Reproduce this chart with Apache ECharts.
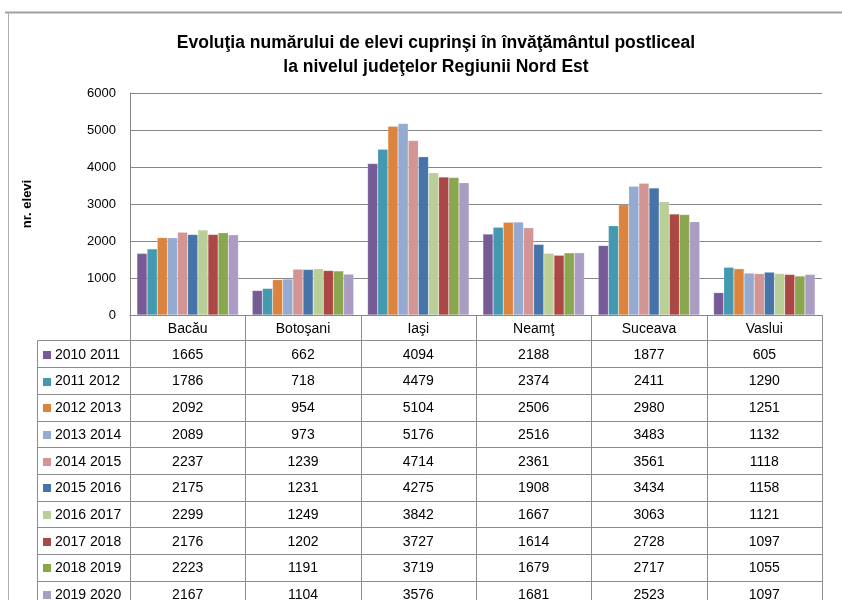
<!DOCTYPE html>
<html>
<head>
<meta charset="utf-8">
<script src="https://cdn.jsdelivr.net/npm/echarts@6/dist/echarts.min.js"></script>
<style>
html,body{margin:0;padding:0;background:#fff;}
#chart{width:842px;height:600px;}
</style>
</head>
<body>
<div id="chart"></div>
<script>
var categories = ["Bacău", "Botoşani", "Iaşi", "Neamţ", "Suceava", "Vaslui"];
var seriesNames = ["2010 2011","2011 2012","2012 2013","2013 2014","2014 2015","2015 2016","2016 2017","2017 2018","2018 2019","2019 2020"];
var v2010 = [1665, 662, 4094, 2188, 1877, 605];
var v2011 = [1786, 718, 4479, 2374, 2411, 1290];
var v2012 = [2092, 954, 5104, 2506, 2980, 1251];
var v2013 = [2089, 973, 5176, 2516, 3483, 1132];
var v2014 = [2237, 1239, 4714, 2361, 3561, 1118];
var v2015 = [2175, 1231, 4275, 1908, 3434, 1158];
var v2016 = [2299, 1249, 3842, 1667, 3063, 1121];
var v2017 = [2176, 1202, 3727, 1614, 2728, 1097];
var v2018 = [2223, 1191, 3719, 1679, 2717, 1055];
var v2019 = [2167, 1104, 3576, 1681, 2523, 1097];
var yTicks = [0, 1000, 2000, 3000, 4000, 5000, 6000];
var colors = ["#765B96","#4299B0","#DC843E","#94AAD1","#D39594","#4673A8","#BACF98","#AB4744","#8AA64F","#AA9CC2"];

var allValues = [v2010, v2011, v2012, v2013, v2014, v2015, v2016, v2017, v2018, v2019];

var FONT = '"Liberation Sans", Arial, sans-serif';
var GRID = {left: 130, right: 20, top: 93, bottom: 285};
var chart = echarts.init(document.getElementById('chart'), null, {renderer: 'canvas'});

var series = seriesNames.map(function (n, i) {
  return {
    name: n, type: 'bar', data: allValues[i],
    barGap: '0%', barCategoryGap: '12%',
    itemStyle: {color: colors[i], borderColor: 'rgba(255,255,255,0.35)', borderWidth: 0.5},
    animation: false
  };
});

chart.setOption({
  animation: false,
  backgroundColor: '#fff',
  title: {
    text: 'Evoluţia numărului de elevi cuprinşi în învăţământul postliceal\nla nivelul judeţelor Regiunii Nord Est',
    left: 431, top: 26, textAlign: 'center',
    textStyle: {fontFamily: FONT, fontSize: 17.5, fontWeight: 'bold', color: '#000', lineHeight: 24}
  },
  grid: GRID,
  xAxis: {
    type: 'category', data: categories,
    axisLine: {show: true, lineStyle: {color: '#868686'}},
    axisTick: {show: false},
    axisLabel: {show: false}
  },
  yAxis: {
    type: 'value', min: yTicks[0], max: yTicks[yTicks.length - 1], interval: 1000,
    name: 'nr. elevi', nameLocation: 'middle', nameGap: 96,
    nameTextStyle: {fontFamily: FONT, fontSize: 13, fontWeight: 'bold', color: '#000'},
    axisLine: {show: true, lineStyle: {color: '#868686'}},
    axisTick: {show: false},
    axisLabel: {fontFamily: FONT, fontSize: 13, color: '#000', margin: 14,
      formatter: function (v) { return String(v); }},
    splitLine: {lineStyle: {color: '#868686', width: 1}}
  },
  series: series
});

function buildTable() {
  var gRight = 842 - GRID.right;
  var y0 = chart.convertToPixel({yAxisIndex: 0}, 0);
  var c0 = chart.convertToPixel({xAxisIndex: 0}, 0);
  var c1 = chart.convertToPixel({xAxisIndex: 0}, 1);
  var cw = c1 - c0;
  var headerH = 25, rowH = 26.7, labelLeft = 37;
  var lineStyle = {stroke: '#8C8C8C', lineWidth: 1};
  var els = [];
  var bottom = 620;
  // frame of the chart object
  els.push({type: 'line', shape: {x1: 5, y1: 12.5, x2: 842, y2: 12.5}, style: {stroke: '#A0A0A0', lineWidth: 2}, silent: true});
  els.push({type: 'line', shape: {x1: 8.5, y1: 12, x2: 8.5, y2: 600}, style: {stroke: '#B0B0B0', lineWidth: 1}, silent: true});
  var hTop = Math.round(y0) + 0.5;
  var dTop = hTop + headerH;
  els.push({type: 'line', shape: {x1: labelLeft + 0.5, y1: dTop, x2: gRight, y2: dTop}, style: lineStyle, silent: true});
  for (var r = 1; r <= seriesNames.length; r++) {
    var yy = Math.round(dTop + r * rowH) + 0.5;
    els.push({type: 'line', shape: {x1: labelLeft + 0.5, y1: yy, x2: gRight, y2: yy}, style: lineStyle, silent: true});
  }
  els.push({type: 'line', shape: {x1: labelLeft + 0.5, y1: dTop, x2: labelLeft + 0.5, y2: bottom}, style: lineStyle, silent: true});
  for (var c = 0; c <= categories.length; c++) {
    var xx = Math.round(c0 - cw / 2 + c * cw) + 0.5;
    els.push({type: 'line', shape: {x1: xx, y1: hTop, x2: xx, y2: bottom}, style: lineStyle, silent: true});
  }
  categories.forEach(function (cat, ci) {
    els.push({type: 'text', x: c0 + ci * cw, y: hTop + headerH / 2 + 1, silent: true,
      style: {text: cat, font: '14px ' + FONT, fill: '#000', align: 'center', verticalAlign: 'middle'}});
  });
  seriesNames.forEach(function (n, si) {
    var cy = dTop + si * rowH + rowH / 2 + 1;
    els.push({type: 'rect', shape: {x: 43, y: Math.round(cy - 4), width: 8, height: 8}, style: {fill: colors[si]}, silent: true});
    els.push({type: 'text', x: 55, y: cy, silent: true,
      style: {text: n, font: '14px ' + FONT, fill: '#000', align: 'left', verticalAlign: 'middle'}});
    allValues[si].forEach(function (v, ci) {
      els.push({type: 'text', x: c0 + ci * cw, y: cy, silent: true,
        style: {text: String(v), font: '14px ' + FONT, fill: '#000', align: 'center', verticalAlign: 'middle'}});
    });
  });
  chart.setOption({graphic: {elements: els}});
}
buildTable();
</script>
</body>
</html>
